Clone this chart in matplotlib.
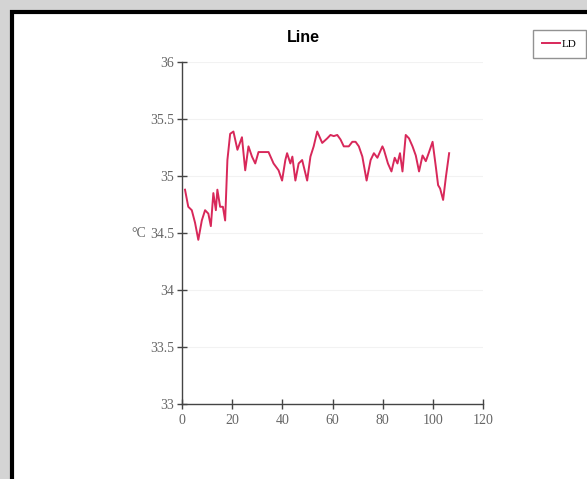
import numpy as np
import matplotlib.pyplot as plt
from matplotlib.patches import Rectangle

# sample index and temperature readings (°C)
sample = [1.2, 2.5, 3.9, 5.2, 6.5, 7.9, 9.2, 10.5, 11.5, 12.5, 13.5, 14.1, 15.2, 16.3,
          17.2, 18.1, 19.2, 20.5, 22.1, 23.9, 25.2, 26.5, 27.9, 29.2, 30.5, 32.5, 34.5,
          36.5, 38.5, 39.9, 41.2, 41.9, 43.2, 44.0, 45.2, 46.5, 47.9, 49.9, 51.2, 52.5,
          53.9, 55.9, 57.9, 59.2, 60.5, 61.9, 63.2, 64.5, 66.5, 67.9, 69.2, 70.5, 71.9,
          73.6, 75.2, 76.5, 77.9, 79.9, 80.5, 82.1, 83.5, 84.8, 85.9, 86.9, 87.9, 89.2,
          90.5, 91.9, 93.2, 94.5, 95.9, 97.2, 98.5, 99.9, 101.2, 102.1, 102.9, 104.1,
          105.2, 106.5]
temp = [34.88, 34.73, 34.70, 34.59, 34.44, 34.61, 34.70, 34.67, 34.56, 34.85, 34.70,
        34.88, 34.73, 34.73, 34.61, 35.14, 35.37, 35.39, 35.23, 35.34, 35.05, 35.26,
        35.17, 35.11, 35.21, 35.21, 35.21, 35.11, 35.05, 34.96, 35.14, 35.20, 35.11,
        35.17, 34.96, 35.11, 35.14, 34.96, 35.17, 35.26, 35.39, 35.29, 35.33, 35.36,
        35.35, 35.36, 35.32, 35.26, 35.26, 35.30, 35.30, 35.26, 35.17, 34.96, 35.14,
        35.20, 35.16, 35.26, 35.23, 35.11, 35.04, 35.16, 35.11, 35.20, 35.04, 35.36,
        35.33, 35.26, 35.18, 35.04, 35.18, 35.13, 35.21, 35.30, 35.08, 34.92, 34.89,
        34.79, 34.99, 35.20]
series_name = "LD"

x_ticks = [0, 20, 40, 60, 80, 100, 120]
y_ticks = [33, 33.5, 34, 34.5, 35, 35.5, 36]
y_tick_labels = ["33", "33.5", "34", "34.5", "35", "35.5", "36"]

plt.rcParams['font.family'] = ['Liberation Serif', 'DejaVu Serif']

fig = plt.figure(figsize=(5.87, 4.79), dpi=100, facecolor='#d4d4d4')

# white panel with a heavy black frame on the left and top
W, H = 587, 479
fig.patches.append(Rectangle((12 / W, -0.05), 1.2, 1 - 12 / H + 0.05,
                             transform=fig.transFigure, facecolor='white',
                             edgecolor='black', linewidth=3, zorder=-5))

ax = fig.add_axes([182 / W, 1 - 404 / H, 301 / W, 342 / H])
ax.set_facecolor('none')
line, = ax.plot(sample, temp, color='#d8285a', linewidth=1.4, label=series_name)

ax.set_xlim(0, 120)
ax.set_ylim(33, 36)
ax.set_xticks(x_ticks)
ax.set_yticks(y_ticks)
ax.set_yticklabels(y_tick_labels)

for s in ['top', 'right']:
    ax.spines[s].set_visible(False)
for s in ['left', 'bottom']:
    ax.spines[s].set_color('#444444')
    ax.spines[s].set_linewidth(1.0)

ax.tick_params(direction='inout', length=7, width=1, colors='#444444',
               labelsize=10, labelcolor='#666666')
ax.tick_params(axis='y', pad=2)
ax.tick_params(axis='x', pad=4)
ax.yaxis.grid(True, color='#f2f2f2', linewidth=0.8)
ax.set_axisbelow(True)

ax.set_ylabel('°C', rotation=0, fontsize=10, color='#666666', va='center')
ax.yaxis.set_label_coords(-0.145, 0.5)

fig.text(303 / W, 1 - 38 / H, 'Line', ha='center', va='center',
         fontsize=11.5, fontweight='bold', family=['Liberation Sans', 'DejaVu Sans'])

fig.legend(handles=[line], loc='upper left', bbox_to_anchor=(533 / W, 1 - 30 / H),
           fontsize=8, frameon=True, fancybox=False, edgecolor='#777777',
           handlelength=1.6, borderpad=0.8, handletextpad=0.2, borderaxespad=0)

fig.savefig('out.png', dpi=100, facecolor=fig.get_facecolor())
